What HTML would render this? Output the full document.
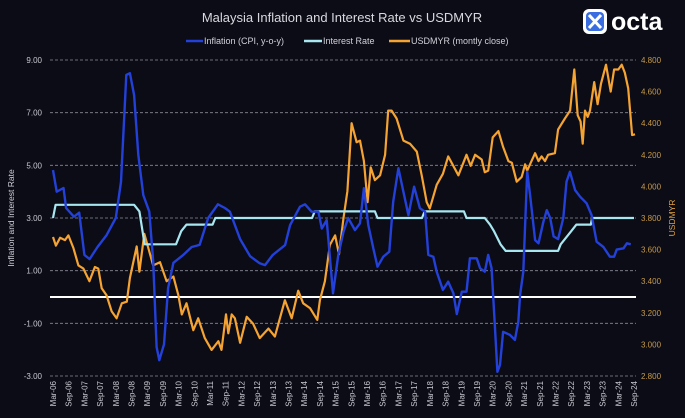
<!DOCTYPE html>
<html><head><meta charset="utf-8">
<style>
html,body{margin:0;padding:0;background:#0b0c16;}
#wrap{position:relative;width:685px;height:418px;background:#0b0c16;overflow:hidden;font-family:"Liberation Sans",sans-serif;}
svg text{font-family:"Liberation Sans",sans-serif;}
</style></head>
<body>
<div id="wrap">
<svg id="chart" width="685" height="418" viewBox="0 0 685 418">
  <text x="342" y="22" text-anchor="middle" fill="#d8d8de" font-size="13">Malaysia Inflation and Interest Rate vs USDMYR</text>
  <g>
    <g><line x1="186" y1="41" x2="203" y2="41" stroke="#2340d8" stroke-width="2.5"/><text x="204" y="44" fill="#d0d0d8" font-size="9">Inflation (CPI, y-o-y)</text></g>
    <g><line x1="304" y1="41" x2="322" y2="41" stroke="#a8e6f0" stroke-width="2.5"/><text x="323" y="44" fill="#d0d0d8" font-size="9">Interest Rate</text></g>
    <g><line x1="389" y1="41" x2="410" y2="41" stroke="#f5a332" stroke-width="2.5"/><text x="411" y="44" fill="#d0d0d8" font-size="9">USDMYR (montly close)</text></g>
  </g>
  <g>
    <rect x="583" y="9" width="24" height="25" rx="6" fill="#ffffff"/>
    <rect x="586" y="12" width="18" height="19" rx="4" fill="#3a6ee0"/>
    <path d="M589 15 L601 28 M601 15 L589 28" stroke="#ffffff" stroke-width="3" fill="none"/>
    <text x="611" y="30" fill="#ffffff" font-size="25" font-weight="bold">octa</text>
  </g>
  <text transform="translate(14,218) rotate(-90)" text-anchor="middle" fill="#d0d0d8" font-size="8.5">Inflation and Interest Rate</text>
  <text transform="translate(675,218) rotate(-90)" text-anchor="middle" fill="#e0a040" font-size="8.5">USDMYR</text>
  <g id="grid"></g><g id="series"></g><g id="axes"></g>
</svg>
</div>
<script>
const leftTicks=[9,7,5,3,1,-1,-3];
const leftTickLabels=["9.00","7.00","5.00","3.00","1.00","-1.00","-3.00"];
const rightTicks=[4.8,4.6,4.4,4.2,4.0,3.8,3.6,3.4,3.2,3.0,2.8];
const rightTickLabels=["4.800","4.600","4.400","4.200","4.000","3.800","3.600","3.400","3.200","3.000","2.800"];
const xLabels=["Mar-06","Sep-06","Mar-07","Sep-07","Mar-08","Sep-08","Mar-09","Sep-09","Mar-10","Sep-10","Mar-11","Sep-11","Mar-12","Sep-12","Mar-13","Sep-13","Mar-14","Sep-14","Mar-15","Sep-15","Mar-16","Sep-16","Mar-17","Sep-17","Mar-18","Sep-18","Mar-19","Sep-19","Mar-20","Sep-20","Mar-21","Sep-21","Mar-22","Sep-22","Mar-23","Sep-23","Mar-24","Sep-24"];
const inflMonths=[0,1.4,4,5,8,10,12,14,17,20.5,24,26,28,29.4,31,32.6,34.5,36.8,38.3,39.6,40.6,42.4,44,46,49.8,53,56,59.3,63,65.7,67.6,71.5,75.3,79,81,84,88.7,90.6,94.4,96.3,98.8,101.4,102.7,104.6,107,109,111,112.8,115.4,117.3,118.8,120.5,122.4,124,126.2,128.5,130,132,133.9,135.8,138,140.2,142.2,143.4,145.3,146.6,149,151,153,154.3,156.2,158,159.3,161.9,163.2,165,166.3,167.6,168.9,169.8,170.8,172,174.6,176.5,177.8,178.5,179.7,181.2,182.3,184.2,185.5,187.4,188.7,190,191.3,193,195,196.2,197.5,199.5,201.4,203.9,205.8,207.7,210.3,212.8,214.4,215.4,218,219.3,220.8];
const inflValues=[4.82,4.0,4.14,3.38,3.05,3.2,1.6,1.44,1.9,2.35,3.0,4.38,8.43,8.5,7.67,5.4,3.87,3.24,1.34,-1.9,-2.4,-1.8,0.34,1.3,1.6,1.9,1.98,3.0,3.52,3.38,3.24,2.2,1.55,1.28,1.21,1.6,1.97,2.73,3.43,3.52,3.24,3.24,2.6,2.92,0.14,1.6,2.48,3.0,2.54,2.8,4.13,2.73,1.85,1.15,1.53,1.72,3.62,4.89,4.0,3.11,4.19,3.37,3.24,1.6,1.53,0.96,0.27,0.58,0.14,-0.65,0.2,0.2,1.47,1.47,1.09,0.96,1.6,1.09,-1.19,-2.84,-2.58,-1.32,-1.44,-1.63,-0.94,0.08,0.96,4.76,3.87,2.16,2.04,2.86,3.3,3.0,2.3,2.2,3.0,4.38,4.76,4.06,3.81,3.56,3.11,2.1,1.9,1.53,1.53,1.8,1.85,2.04,2.0];
const rateMonths=[0,1,31,33,35,47,48,49,51,61,62,99,100,123,124,141,142,157,158,165,167,168.5,171,173,193,194,196,198,200,205.5,206,222];
const rateValues=[3.0,3.5,3.5,3.25,2.0,2.0,2.25,2.5,2.75,2.75,3.0,3.0,3.25,3.25,3.0,3.0,3.25,3.25,3.0,3.0,2.75,2.5,2.0,1.75,1.75,2.0,2.25,2.5,2.75,2.75,3.0,3.0];
const fxMonths=[0,1.1,2.7,4.6,5.9,7.8,9.7,11.6,13.9,16,17.3,18.6,20.5,22.4,24.3,26.3,28.2,29.4,32,33,34.9,36.4,38.3,40.9,43.4,46,47.9,49.2,51,53.6,55.5,58,60.6,63.2,64.4,66.1,67,68.3,69.5,71.5,74,76.5,79,82.3,84.8,86.7,88.6,91.2,93.7,95.6,98.2,101,102,103.9,105.8,107.8,109.3,111,112.5,114.1,116,117.3,118.8,120.2,121.4,123,125,126.9,128.1,129.4,131.3,133.9,136.4,139,140.9,142.8,144,146.6,149,151,154.9,158,159.6,161.3,163.8,165,166.3,168,170.2,172,174,175.3,177.2,179.1,180.4,181.2,184.2,185.5,186.7,188,189.2,191.8,193,195.6,197.6,199.2,200.5,201.6,202.4,203.3,204.3,205.2,206.8,208.1,209.4,211.3,213.1,214.4,216,217.3,218.5,219.8,221.3,222.4];
const fxValues=[3.68,3.625,3.675,3.66,3.69,3.61,3.5,3.48,3.4,3.49,3.48,3.355,3.31,3.21,3.165,3.26,3.27,3.42,3.62,3.46,3.7,3.61,3.5,3.52,3.4,3.43,3.31,3.19,3.26,3.09,3.165,3.04,2.965,3.02,2.965,3.19,3.07,3.19,3.165,3.01,3.175,3.13,3.04,3.1,3.05,3.165,3.28,3.165,3.34,3.26,3.23,3.155,3.28,3.4,3.63,3.69,3.57,3.8,3.97,4.4,4.28,4.29,4.16,3.9,4.12,4.04,4.07,4.2,4.48,4.48,4.43,4.29,4.27,4.22,4.07,3.9,3.86,4.01,4.08,4.19,4.07,4.2,4.13,4.2,4.17,4.09,4.1,4.31,4.35,4.25,4.16,4.15,4.03,4.06,4.14,4.1,4.21,4.16,4.19,4.16,4.2,4.21,4.36,4.43,4.48,4.74,4.45,4.41,4.27,4.48,4.44,4.48,4.66,4.52,4.65,4.77,4.6,4.74,4.74,4.77,4.72,4.62,4.325,4.33];

const NS="http://www.w3.org/2000/svg";
const X0=53,PXM=2.617,TOP=60,BOT=376;
function xScale(m){return X0+m*PXM;}
function yLeft(v){return TOP+(9-v)*(BOT-TOP)/12;}
function yRight(v){return TOP+(4.8-v)*(BOT-TOP)/2;}
function mk(tag,attrs,parent){const e=document.createElementNS(NS,tag);for(const k in attrs)e.setAttribute(k,attrs[k]);parent.appendChild(e);return e;}
const grid=document.getElementById('grid'),axes=document.getElementById('axes'),series=document.getElementById('series');
leftTicks.forEach((t,i)=>{
  const y=yLeft(t);
  const g=mk('line',{x1:50,x2:636,y1:y,y2:y,stroke:'#8a8a95','stroke-width':0.8,'stroke-dasharray':'3,2'},grid);
  
  
  const tx=mk('text',{x:42,y:y+3,'text-anchor':'end',fill:'#c8c8d0','font-size':8},axes);
  tx.textContent=leftTickLabels[i];
  
  
});
rightTicks.forEach((t,i)=>{
  const tx=mk('text',{x:641,y:yRight(t)+3,fill:'#c89a48','font-size':8},axes);
  tx.textContent=rightTickLabels[i];
  
  
});
xLabels.forEach((l,i)=>{
  const x=xScale(i*6);
  const tx=mk('text',{transform:'translate('+(x+3)+',381) rotate(-90)','text-anchor':'end',fill:'#c8c8d0','font-size':8},axes);
  tx.textContent=l;
  
  
});
const zero=mk('line',{x1:50,x2:636,y1:yLeft(0),y2:yLeft(0),stroke:'#ffffff','stroke-width':2},grid);


function path(ms,vs,ys){return ms.map((m,i)=>(i?'L':'M')+xScale(m).toFixed(1)+' '+ys(vs[i]).toFixed(1)).join(' ');}
const fx=mk('path',{d:path(fxMonths,fxValues,yRight),fill:'none',stroke:'#f5a332','stroke-width':2.2,'stroke-linejoin':'round'},series);


const rate=mk('path',{d:path(rateMonths,rateValues,yLeft),fill:'none',stroke:'#a8e6f0','stroke-width':2.2,'stroke-linejoin':'round'},series);


const infl=mk('path',{d:path(inflMonths,inflValues,yLeft),fill:'none',stroke:'#2340d8','stroke-width':2.4,'stroke-linejoin':'round'},series);


</script>
</body></html>
